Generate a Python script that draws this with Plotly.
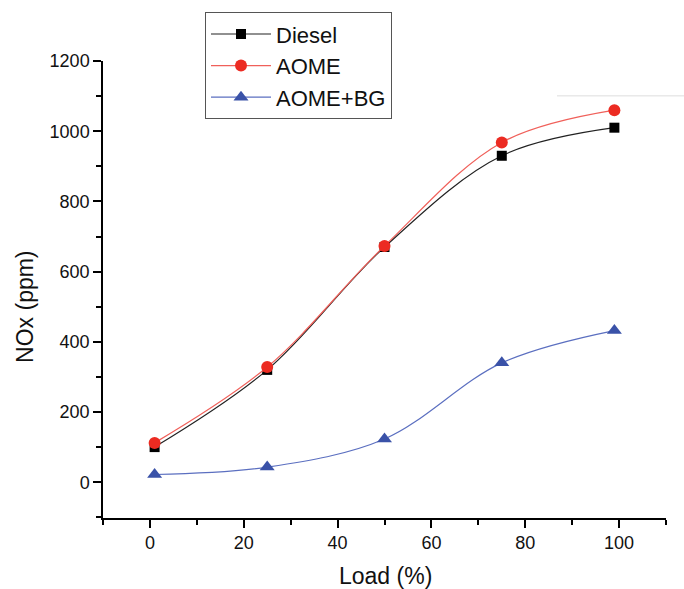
import plotly.graph_objects as go

load = [1, 25, 50, 75, 99]
diesel = [100, 320, 670, 930, 1010]
aome = [112, 328, 673, 968, 1060]
aome_bg = [22, 43, 123, 340, 432]

x_ticks = [0, 20, 40, 60, 80, 100]
y_ticks = [0, 200, 400, 600, 800, 1000, 1200]

FONT = "Liberation Sans, Arial, sans-serif"

fig = go.Figure()
fig.add_trace(go.Scatter(
    x=load, y=diesel, name="Diesel", mode="lines+markers",
    line=dict(color="#222222", width=1.2, shape="spline", smoothing=1.0),
    marker=dict(symbol="square", size=10, color="#000000"),
))
fig.add_trace(go.Scatter(
    x=load, y=aome, name="AOME", mode="lines+markers",
    line=dict(color="#f0605a", width=1.2, shape="spline", smoothing=1.0),
    marker=dict(symbol="circle", size=12, color="#ec2b22"),
))
fig.add_trace(go.Scatter(
    x=load, y=aome_bg, name="AOME+BG", mode="lines+markers",
    line=dict(color="#5b6fc0", width=1.2, shape="spline", smoothing=1.0),
    marker=dict(symbol="triangle-up", size=13, color="#3a52a8"),
))

axis_common = dict(
    showline=True, linecolor="black", linewidth=1.5,
    ticks="outside", ticklen=8, tickwidth=1.5, tickcolor="black",
    showgrid=False, zeroline=False,
    tickfont=dict(family=FONT, size=18, color="#111111"),
)

fig.update_xaxes(
    range=[-10, 110], tickvals=x_ticks,
    minor=dict(ticks="outside", ticklen=5, tickwidth=1.5, tickcolor="black", dtick=10, tick0=0),
    **axis_common,
)
fig.update_yaxes(
    range=[-102, 1200], tickvals=y_ticks,
    minor=dict(ticks="outside", ticklen=5, tickwidth=1.5, tickcolor="black", dtick=100, tick0=0),
    **axis_common,
)

L, R, T, B = 103, 18, 59, 71
W, H = 684, 589
pw, ph = W - L - R, H - T - B

def px(xp):
    return (xp - L) / pw

def py(yp):
    return (H - B - yp) / ph

fig.add_annotation(text="Load (%)", xref="paper", yref="paper",
                   x=px(385), y=py(576), xanchor="center", yanchor="middle",
                   showarrow=False,
                   font=dict(family=FONT, size=23, color="#111111"))
fig.add_annotation(text="NOx (ppm)", xref="paper", yref="paper",
                   x=px(25), y=py(306), xanchor="center", yanchor="middle",
                   showarrow=False, textangle=-90,
                   font=dict(family=FONT, size=23, color="#111111"))

fig.add_shape(type="line", xref="paper", yref="paper",
              x0=px(557), x1=px(684), y0=py(94), y1=py(94),
              line=dict(color="#dddddd", width=1))

fig.update_layout(
    width=W, height=H,
    margin=dict(l=L, r=R, t=T, b=B),
    plot_bgcolor="white", paper_bgcolor="white",
    font=dict(family=FONT),
    showlegend=True,
    legend=dict(
        x=px(205), y=py(10), xanchor="left", yanchor="top",
        bordercolor="#555555", borderwidth=1, bgcolor="white",
        font=dict(family=FONT, size=22, color="#111111"),
        itemwidth=60, tracegroupgap=0,
    ),
)

fig.write_html("out.html")
